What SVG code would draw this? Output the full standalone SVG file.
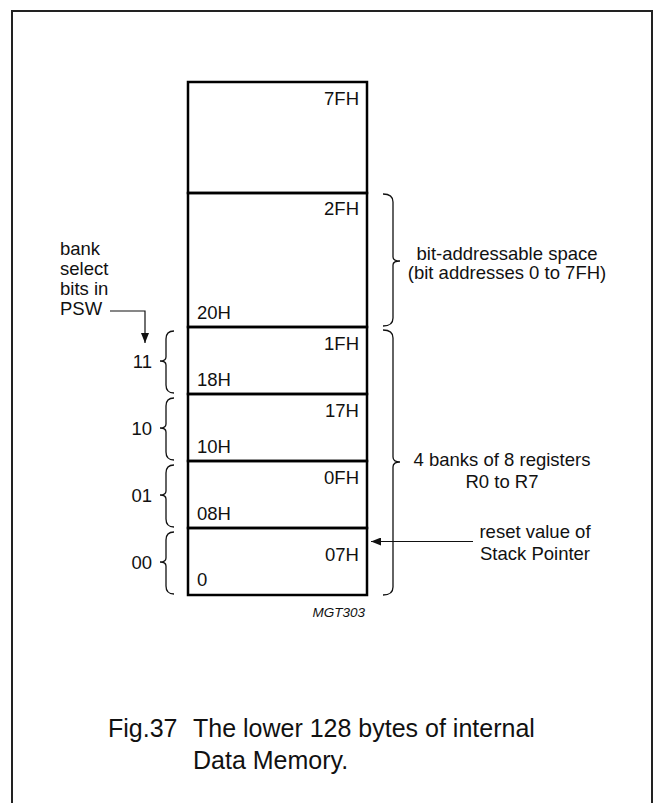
<svg xmlns="http://www.w3.org/2000/svg" width="655" height="803" viewBox="0 0 655 803">
<defs>
<style>
.t{font-family:"Liberation Sans",Arial,sans-serif;font-size:18.5px;fill:#111}
.cap{font-family:"Liberation Sans",Arial,sans-serif;font-size:25px;fill:#111}
.code{font-family:"Liberation Sans",Arial,sans-serif;font-size:13.5px;font-style:italic;fill:#111}
.cell{fill:none;stroke:#000;stroke-width:2.5}
.brace{fill:none;stroke:#111;stroke-width:1.3}
.ln{fill:none;stroke:#111;stroke-width:1.2}
</style>
<marker id="ah" viewBox="0 0 10 8" refX="10" refY="4" markerWidth="10" markerHeight="8" markerUnits="userSpaceOnUse" orient="auto">
<path d="M0,0 L10,4 L0,8 Z" fill="#111"/>
</marker>
</defs>
<rect x="0" y="0" width="655" height="803" fill="#fff"/>
<rect id="frame" x="12" y="11" width="640" height="800" fill="none" stroke="#222" stroke-width="2"/>

<g id="memory">
<g id="cell-top"><rect class="cell" x="188" y="82" width="179" height="111"/><text class="t" x="359" y="105" text-anchor="end">7FH</text></g>
<g id="cell-bit"><rect class="cell" x="188" y="193" width="179" height="134"/><text class="t" x="359" y="215" text-anchor="end">2FH</text><text class="t" x="197" y="319">20H</text></g>
<g id="cell-bank3"><rect class="cell" x="188" y="327" width="179" height="67"/><text class="t" x="359" y="350" text-anchor="end">1FH</text><text class="t" x="197" y="386">18H</text></g>
<g id="cell-bank2"><rect class="cell" x="188" y="394" width="179" height="67"/><text class="t" x="359" y="417" text-anchor="end">17H</text><text class="t" x="197" y="453">10H</text></g>
<g id="cell-bank1"><rect class="cell" x="188" y="461" width="179" height="67"/><text class="t" x="359" y="484" text-anchor="end">0FH</text><text class="t" x="197" y="520">08H</text></g>
<g id="cell-bank0"><rect class="cell" x="188" y="528" width="179" height="67"/><text class="t" x="359" y="561" text-anchor="end">07H</text><text class="t" x="197" y="586">0</text></g>
</g>

<g id="psw-label"><text class="t" x="60" y="255">bank</text><text class="t" x="60" y="275">select</text><text class="t" x="60" y="295">bits in</text><text class="t" x="60" y="315">PSW</text></g>

<g id="bank-labels">
<g id="b11"><path class="brace" d="M174,331 Q166,331 166,339 L166,357 Q166,361 160,361 Q166,361 166,365 L166,385 Q166,393 174,393"/><text class="t" x="152" y="368" text-anchor="end">11</text></g>
<g id="b10"><path class="brace" d="M174,398 Q166,398 166,406 L166,424 Q166,428 160,428 Q166,428 166,432 L166,452 Q166,460 174,460"/><text class="t" x="152" y="435" text-anchor="end">10</text></g>
<g id="b01"><path class="brace" d="M174,465 Q166,465 166,473 L166,491 Q166,495 160,495 Q166,495 166,499 L166,519 Q166,527 174,527"/><text class="t" x="152" y="502" text-anchor="end">01</text></g>
<g id="b00"><path class="brace" d="M174,532 Q166,532 166,540 L166,558 Q166,562 160,562 Q166,562 166,566 L166,586 Q166,594 174,594"/><text class="t" x="152" y="569" text-anchor="end">00</text></g>
</g>

<g id="bit-space"><path class="brace" d="M383,194 Q393,194 393,202 L393,257 Q393,261 400,261 Q393,261 393,265 L393,318 Q393,326 383,326"/><text class="t" x="507" y="260" text-anchor="middle">bit-addressable space</text><text class="t" x="507" y="279" text-anchor="middle">(bit addresses 0 to 7FH)</text></g>

<g id="reg-banks"><path class="brace" d="M383,330 Q393,330 393,338 L393,457 Q393,462 400,462 Q393,462 393,467 L393,587 Q393,595 383,595"/><text class="t" x="502" y="466" text-anchor="middle">4 banks of 8 registers</text><text class="t" x="502" y="488" text-anchor="middle">R0 to R7</text></g>

<g id="sp-label"><text class="t" x="535" y="538" text-anchor="middle">reset value of</text><text class="t" x="535" y="560" text-anchor="middle">Stack Pointer</text></g>

<g id="connectors">
<path class="ln" d="M110,311 L145,311 L145,343" marker-end="url(#ah)"/>
<path class="ln" d="M473,541.5 L371,541.5" marker-end="url(#ah)"/>
</g>

<text class="code" x="365" y="617" text-anchor="end">MGT303</text>
<g id="caption"><text class="cap" x="108" y="737">Fig.37</text><text class="cap" x="193" y="737">The lower 128 bytes of internal</text><text class="cap" x="193" y="769">Data Memory.</text></g>
</svg>
